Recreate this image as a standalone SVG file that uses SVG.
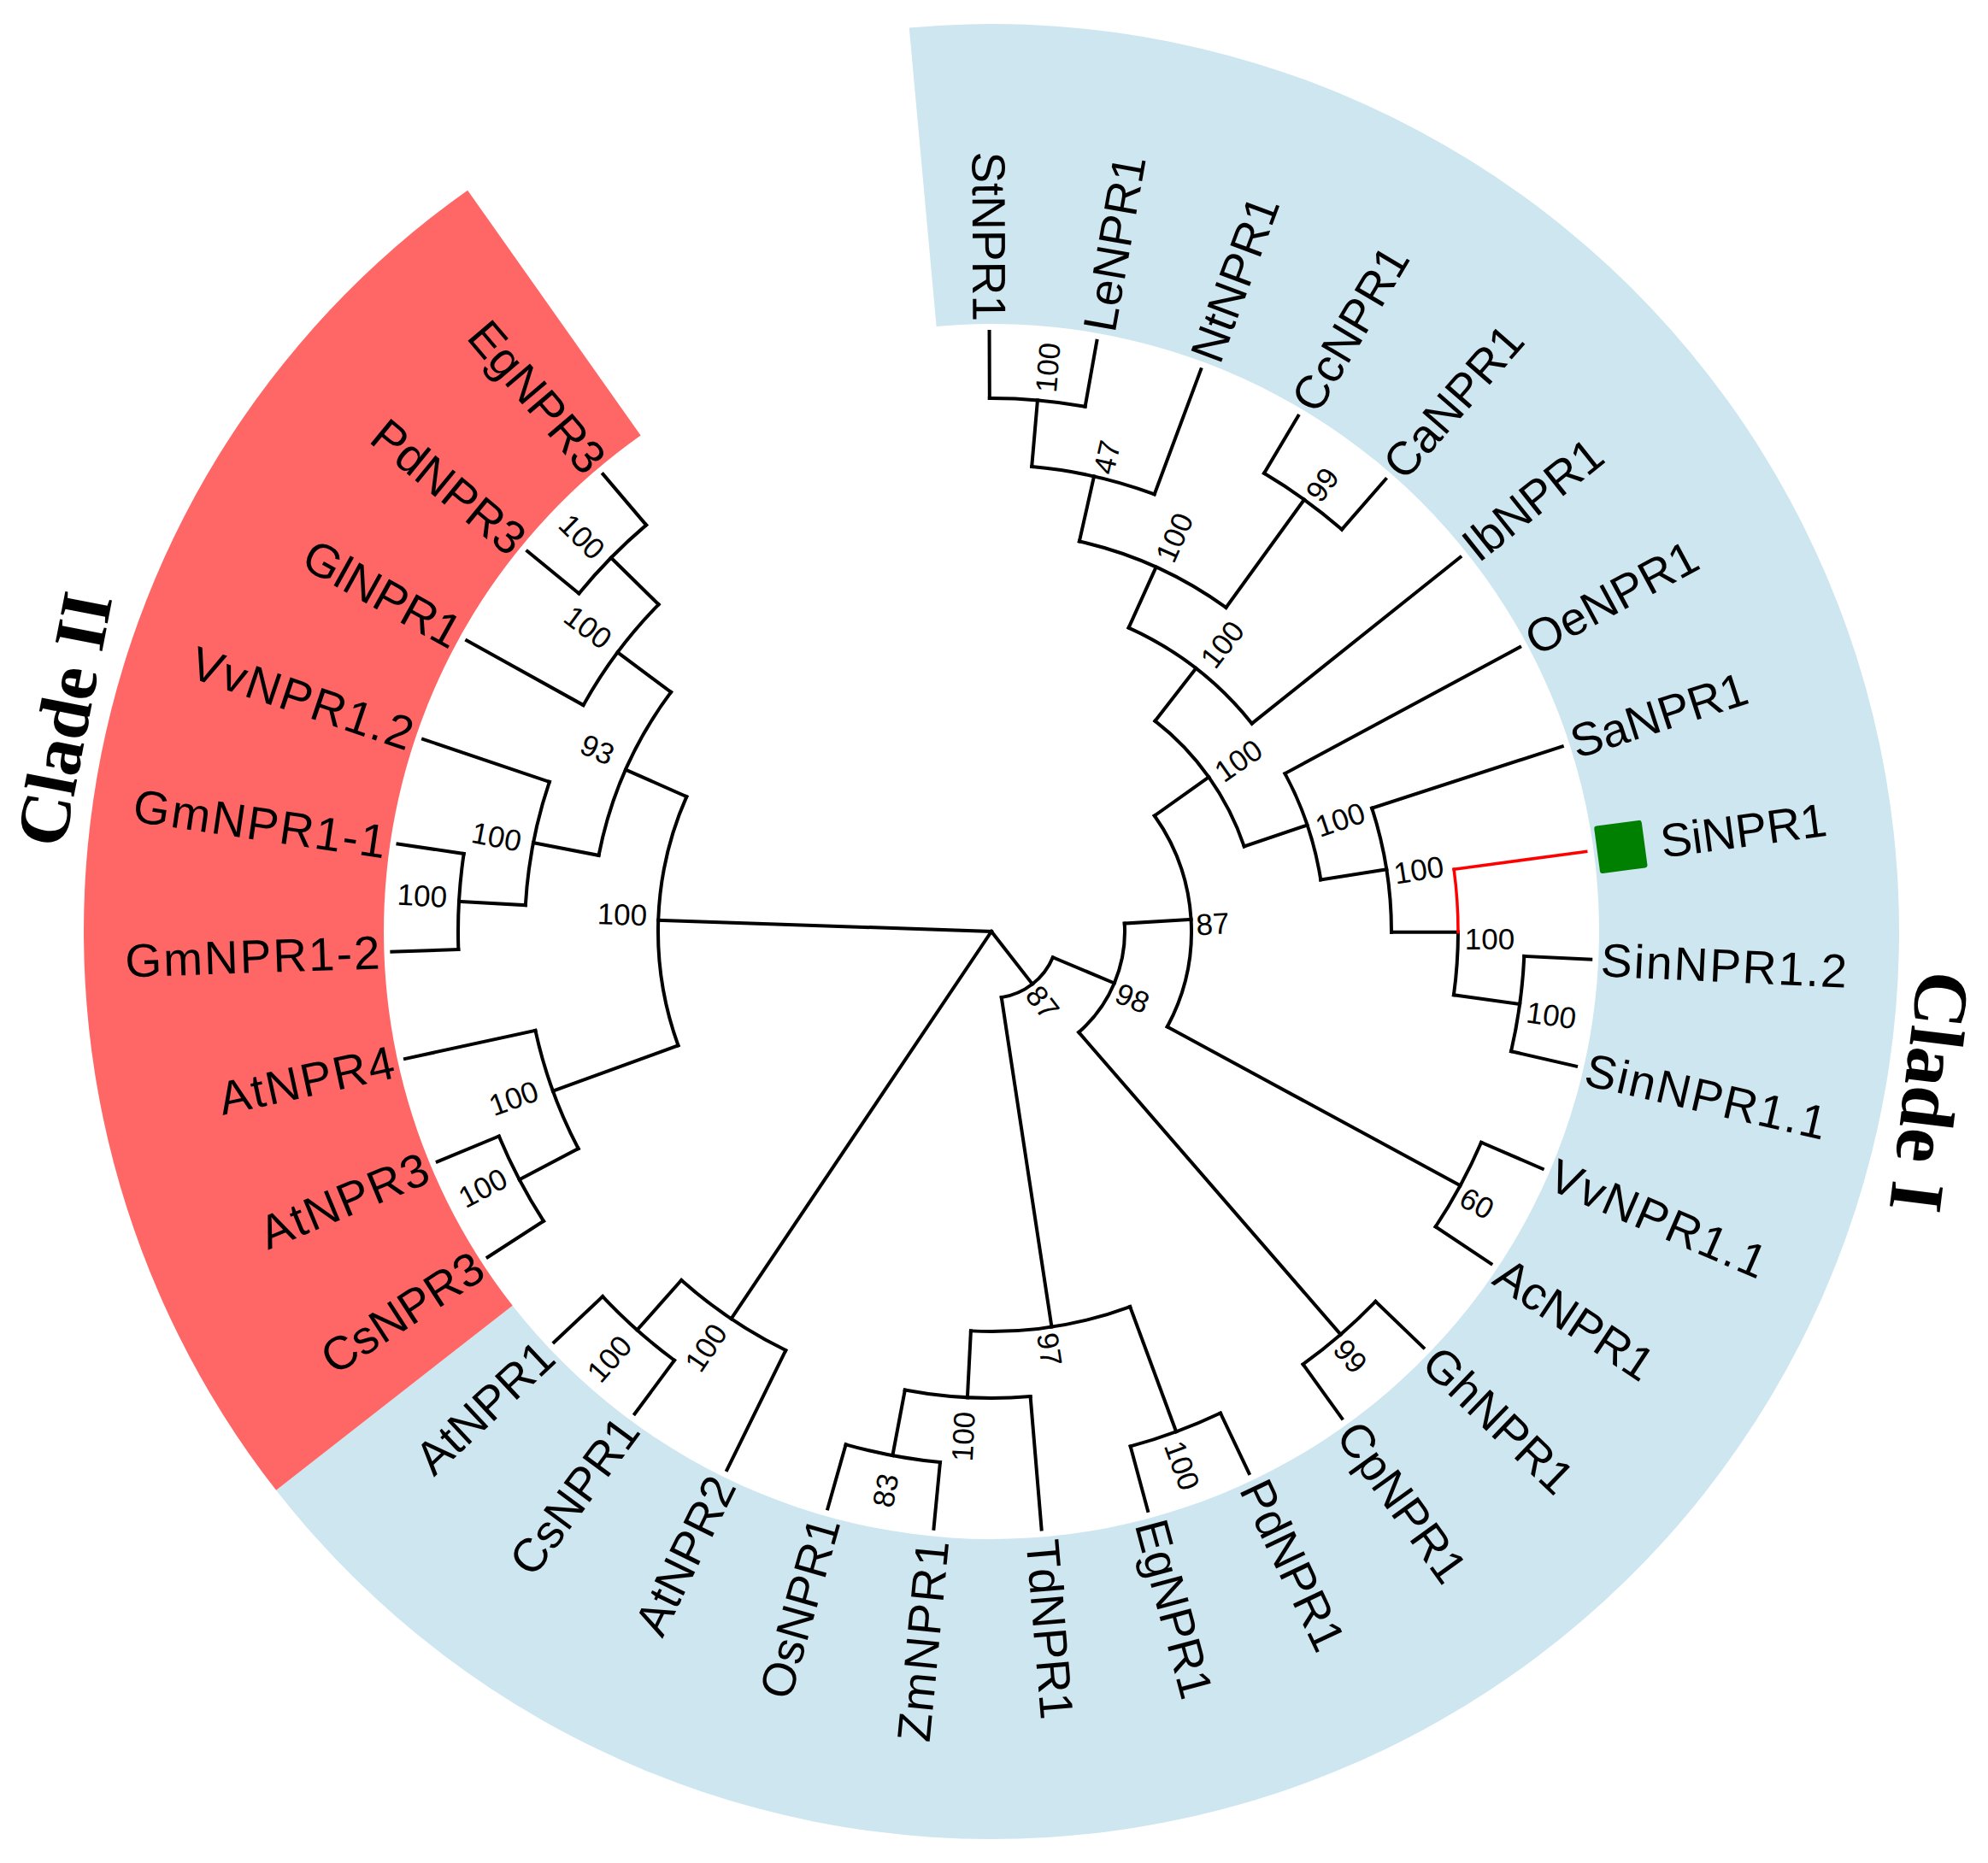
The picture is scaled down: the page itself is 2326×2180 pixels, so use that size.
<svg xmlns="http://www.w3.org/2000/svg" width="2326" height="2180" viewBox="0 0 2326 2180">
<style>
.leaf{font-family:'Liberation Sans',Arial,sans-serif;font-size:55px;fill:#000}
.e{text-anchor:end}
.sp{letter-spacing:2px}
.bs{font-family:'Liberation Sans',Arial,sans-serif;font-size:35px;fill:#000;text-anchor:middle}
.clade{font-family:'Liberation Serif','Times New Roman',serif;font-weight:bold;fill:#000;text-anchor:middle}
.br{fill:none;stroke:#000;stroke-width:4;stroke-linecap:square}
.hl{fill:none;stroke:#ff0000;stroke-width:3.5;stroke-linecap:square}
</style>
<rect width="2326" height="2180" fill="#fff"/>
<g id="bands">
<path id="clade-I-band" d="M1063.75 32.4A1062 1062 0 1 1 323.1 1743.8L599.7 1527.7A711 711 0 1 0 1095.6 381.9Z" fill="#cde6f0"/>
<path id="clade-II-band" d="M323.1 1743.8A1062 1062 0 0 1 547.1 222.7L749.6 509.4A711 711 0 0 0 599.7 1527.7Z" fill="#ff6666"/>
</g>
<g id="connectors" class="br" transform="translate(1160 1090)">
<line x1="624" x2="702" transform="rotate(269.8)"/>
<line x1="624" x2="702" transform="rotate(280.12)"/>
<line x1="546" x2="702" transform="rotate(290.44)"/>
<line x1="624" x2="702" transform="rotate(300.75)"/>
<line x1="624" x2="702" transform="rotate(311.07)"/>
<line x1="390" x2="702" transform="rotate(321.39)"/>
<line x1="390" x2="702" transform="rotate(331.71)"/>
<line x1="468" x2="702" transform="rotate(342.03)"/>
<line x1="624" x2="702" transform="rotate(362.66)"/>
<line x1="624" x2="702" transform="rotate(372.98)"/>
<line x1="624" x2="702" transform="rotate(383.3)"/>
<line x1="624" x2="702" transform="rotate(393.62)"/>
<line x1="624" x2="702" transform="rotate(403.93)"/>
<line x1="624" x2="702" transform="rotate(414.25)"/>
<line x1="624" x2="702" transform="rotate(424.57)"/>
<line x1="624" x2="702" transform="rotate(434.89)"/>
<line x1="546" x2="702" transform="rotate(445.21)"/>
<line x1="624" x2="702" transform="rotate(455.52)"/>
<line x1="624" x2="702" transform="rotate(465.84)"/>
<line x1="546" x2="702" transform="rotate(476.16)"/>
<line x1="624" x2="702" transform="rotate(486.48)"/>
<line x1="624" x2="702" transform="rotate(496.8)"/>
<line x1="624" x2="702" transform="rotate(507.11)"/>
<line x1="624" x2="702" transform="rotate(517.43)"/>
<line x1="546" x2="702" transform="rotate(527.75)"/>
<line x1="624" x2="702" transform="rotate(538.07)"/>
<line x1="624" x2="702" transform="rotate(548.39)"/>
<line x1="546" x2="702" transform="rotate(558.7)"/>
<line x1="546" x2="702" transform="rotate(569.02)"/>
<line x1="624" x2="702" transform="rotate(579.34)"/>
<line x1="624" x2="702" transform="rotate(589.66)"/>
<line x1="546" x2="624" transform="rotate(274.96)"/>
<line x1="468" x2="546" transform="rotate(282.7)"/>
<line x1="468" x2="624" transform="rotate(305.91)"/>
<line x1="390" x2="468" transform="rotate(294.31)"/>
<line x1="312" x2="390" transform="rotate(307.85)"/>
<line x1="546" x2="624" transform="rotate(367.82)"/>
<line x1="468" x2="546" transform="rotate(360.08)"/>
<line x1="390" x2="468" transform="rotate(351.06)"/>
<line x1="312" x2="390" transform="rotate(341.38)"/>
<line x1="234" x2="312" transform="rotate(324.62)"/>
<line x1="234" x2="624" transform="rotate(388.46)"/>
<line x1="156" x2="234" transform="rotate(356.54)"/>
<line x1="156" x2="624" transform="rotate(409.09)"/>
<line x1="78" x2="156" transform="rotate(382.82)"/>
<line x1="468" x2="624" transform="rotate(429.73)"/>
<line x1="546" x2="624" transform="rotate(460.68)"/>
<line x1="468" x2="546" transform="rotate(452.95)"/>
<line x1="78" x2="468" transform="rotate(441.34)"/>
<line x1="0" x2="78" transform="rotate(412.08)"/>
<line x1="546" x2="624" transform="rotate(491.64)"/>
<line x1="0" x2="546" transform="rotate(483.9)"/>
<line x1="546" x2="624" transform="rotate(512.27)"/>
<line x1="390" x2="546" transform="rotate(520.01)"/>
<line x1="546" x2="624" transform="rotate(543.23)"/>
<line x1="468" x2="546" transform="rotate(550.97)"/>
<line x1="546" x2="624" transform="rotate(584.5)"/>
<line x1="468" x2="546" transform="rotate(576.76)"/>
<line x1="390" x2="468" transform="rotate(563.87)"/>
<line x1="0" x2="390" transform="rotate(541.94)"/>
<path d="M624 0A624 624 0 0 1 613.9 111.79" transform="rotate(269.8)"/>
<path d="M546 0A546 546 0 0 1 526.19 145.73" transform="rotate(274.96)"/>
<path d="M624 0A624 624 0 0 1 613.9 111.79" transform="rotate(300.75)"/>
<path d="M468 0A468 468 0 0 1 430.12 184.44" transform="rotate(282.7)"/>
<path d="M390 0A390 390 0 0 1 347.25 177.54" transform="rotate(294.31)"/>
<path d="M624 0A624 624 0 0 1 613.9 111.79" transform="rotate(362.66)"/>
<path d="M546 0A546 546 0 0 1 541.03 73.53" transform="rotate(360.08)"/>
<path d="M468 0A468 468 0 0 1 444.97 145.01" transform="rotate(342.03)"/>
<path d="M390 0A390 390 0 0 1 367.98 129.23" transform="rotate(331.71)"/>
<path d="M312 0A312 312 0 0 1 260.08 172.34" transform="rotate(307.85)"/>
<path d="M624 0A624 624 0 0 1 613.9 111.79" transform="rotate(383.3)"/>
<path d="M234 0A234 234 0 0 1 103.17 210.03" transform="rotate(324.62)"/>
<path d="M624 0A624 624 0 0 1 613.9 111.79" transform="rotate(403.93)"/>
<path d="M156 0A156 156 0 0 1 94.86 123.85" transform="rotate(356.54)"/>
<path d="M624 0A624 624 0 0 1 613.9 111.79" transform="rotate(424.57)"/>
<path d="M624 0A624 624 0 0 1 613.9 111.79" transform="rotate(455.52)"/>
<path d="M546 0A546 546 0 0 1 526.19 145.73" transform="rotate(445.21)"/>
<path d="M468 0A468 468 0 0 1 430.09 184.51" transform="rotate(429.73)"/>
<path d="M78 0A78 78 0 0 1 40.73 66.52" transform="rotate(382.82)"/>
<path d="M624 0A624 624 0 0 1 613.9 111.79" transform="rotate(486.48)"/>
<path d="M546 0A546 546 0 0 1 526.19 145.73" transform="rotate(476.16)"/>
<path d="M624 0A624 624 0 0 1 613.9 111.79" transform="rotate(507.11)"/>
<path d="M546 0A546 546 0 0 1 526.19 145.73" transform="rotate(512.27)"/>
<path d="M624 0A624 624 0 0 1 613.9 111.79" transform="rotate(538.07)"/>
<path d="M546 0A546 546 0 0 1 526.19 145.73" transform="rotate(543.23)"/>
<path d="M624 0A624 624 0 0 1 613.9 111.79" transform="rotate(579.34)"/>
<path d="M546 0A546 546 0 0 1 526.19 145.73" transform="rotate(569.02)"/>
<path d="M468 0A468 468 0 0 1 421.39 203.62" transform="rotate(550.97)"/>
<path d="M390 0A390 390 0 0 1 281.21 270.23" transform="rotate(520.01)"/>
<g id="SiNPR1-path" class="hl">
<line x1="546" x2="702" transform="rotate(352.34)"/>
<path d="M546 0A546 546 0 0 1 541.03 73.53" transform="rotate(352.34)"/>
</g>
</g>
<g id="leaves">
<g id="leaf-StNPR1"><text class="leaf e" transform="translate(1160 1090) rotate(269.8) translate(714 0) rotate(180)" dy="0.35em">StNPR1</text></g>
<g id="leaf-LeNPR1"><text class="leaf" transform="translate(1160 1090) rotate(280.12) translate(714 0)" dy="0.35em">LeNPR1</text></g>
<g id="leaf-NtNPR1"><text class="leaf" transform="translate(1160 1090) rotate(290.44) translate(714 0)" dy="0.35em">NtNPR1</text></g>
<g id="leaf-CcNPR1"><text class="leaf" transform="translate(1160 1090) rotate(300.75) translate(714 0)" dy="0.35em">CcNPR1</text></g>
<g id="leaf-CaNPR1"><text class="leaf" transform="translate(1160 1090) rotate(311.07) translate(714 0)" dy="0.35em">CaNPR1</text></g>
<g id="leaf-IbNPR1"><text class="leaf" transform="translate(1160 1090) rotate(321.39) translate(714 0)" dy="0.35em">IbNPR1</text></g>
<g id="leaf-OeNPR1"><text class="leaf" transform="translate(1160 1090) rotate(331.71) translate(714 0)" dy="0.35em">OeNPR1</text></g>
<g id="leaf-SaNPR1"><text class="leaf" transform="translate(1160 1090) rotate(342.03) translate(714 0)" dy="0.35em">SaNPR1</text></g>
<g id="leaf-SiNPR1"><rect x="-28" y="-28" width="56" height="56" rx="3" fill="#008000" transform="translate(1160 1090) rotate(352.34) translate(743 0)"/><text class="leaf" transform="translate(1160 1090) rotate(352.34) translate(790 0)" dy="0.35em">SiNPR1</text></g>
<g id="leaf-SinNPR1.2"><text class="leaf sp" transform="translate(1160 1090) rotate(362.66) translate(714 0)" dy="0.35em">SinNPR1.2</text></g>
<g id="leaf-SinNPR1.1"><text class="leaf sp" transform="translate(1160 1090) rotate(372.98) translate(714 0)" dy="0.35em">SinNPR1.1</text></g>
<g id="leaf-VvNPR1.1"><text class="leaf sp" transform="translate(1160 1090) rotate(383.3) translate(714 0)" dy="0.35em">VvNPR1.1</text></g>
<g id="leaf-AcNPR1"><text class="leaf" transform="translate(1160 1090) rotate(393.62) translate(714 0)" dy="0.35em">AcNPR1</text></g>
<g id="leaf-GhNPR1"><text class="leaf" transform="translate(1160 1090) rotate(403.93) translate(714 0)" dy="0.35em">GhNPR1</text></g>
<g id="leaf-CpNPR1"><text class="leaf" transform="translate(1160 1090) rotate(414.25) translate(714 0)" dy="0.35em">CpNPR1</text></g>
<g id="leaf-PdNPR1"><text class="leaf" transform="translate(1160 1090) rotate(424.57) translate(714 0)" dy="0.35em">PdNPR1</text></g>
<g id="leaf-EgNPR1"><text class="leaf" transform="translate(1160 1090) rotate(434.89) translate(714 0)" dy="0.35em">EgNPR1</text></g>
<g id="leaf-TdNPR1"><text class="leaf" transform="translate(1160 1090) rotate(445.21) translate(714 0)" dy="0.35em">TdNPR1</text></g>
<g id="leaf-ZmNPR1"><text class="leaf e sp" transform="translate(1160 1090) rotate(455.52) translate(714 0) rotate(180)" dy="0.35em">ZmNPR1</text></g>
<g id="leaf-OsNPR1"><text class="leaf e" transform="translate(1160 1090) rotate(465.84) translate(714 0) rotate(180)" dy="0.35em">OsNPR1</text></g>
<g id="leaf-AtNPR2"><text class="leaf e" transform="translate(1160 1090) rotate(476.16) translate(714 0) rotate(180)" dy="0.35em">AtNPR2</text></g>
<g id="leaf-CsNPR1"><text class="leaf e" transform="translate(1160 1090) rotate(486.48) translate(714 0) rotate(180)" dy="0.35em">CsNPR1</text></g>
<g id="leaf-AtNPR1"><text class="leaf e" transform="translate(1160 1090) rotate(496.8) translate(714 0) rotate(180)" dy="0.35em">AtNPR1</text></g>
<g id="leaf-CsNPR3"><text class="leaf e" transform="translate(1160 1090) rotate(507.11) translate(714 0) rotate(180)" dy="0.35em">CsNPR3</text></g>
<g id="leaf-AtNPR3"><text class="leaf e sp" transform="translate(1160 1090) rotate(517.43) translate(714 0) rotate(180)" dy="0.35em">AtNPR3</text></g>
<g id="leaf-AtNPR4"><text class="leaf e sp" transform="translate(1160 1090) rotate(527.75) translate(714 0) rotate(180)" dy="0.35em">AtNPR4</text></g>
<g id="leaf-GmNPR1-2"><text class="leaf e sp" transform="translate(1160 1090) rotate(538.07) translate(714 0) rotate(180)" dy="0.35em">GmNPR1-2</text></g>
<g id="leaf-GmNPR1-1"><text class="leaf e sp" transform="translate(1160 1090) rotate(548.39) translate(714 0) rotate(180)" dy="0.35em">GmNPR1-1</text></g>
<g id="leaf-VvNPR1.2"><text class="leaf e sp" transform="translate(1160 1090) rotate(558.7) translate(714 0) rotate(180)" dy="0.35em">VvNPR1.2</text></g>
<g id="leaf-GlNPR1"><text class="leaf e" transform="translate(1160 1090) rotate(569.02) translate(714 0) rotate(180)" dy="0.35em">GlNPR1</text></g>
<g id="leaf-PdNPR3"><text class="leaf e" transform="translate(1160 1090) rotate(579.34) translate(714 0) rotate(180)" dy="0.35em">PdNPR3</text></g>
<g id="leaf-EgNPR3"><text class="leaf e" transform="translate(1160 1090) rotate(589.66) translate(714 0) rotate(180)" dy="0.35em">EgNPR3</text></g>
</g>
<g id="bootstrap">
<g id="node-A1"><text class="bs" transform="translate(1226 430) rotate(-85)" dy="0.35em">100</text></g>
<g id="node-A2"><text class="bs" transform="translate(1295 535) rotate(-77)" dy="0.35em">47</text></g>
<g id="node-A3"><text class="bs" transform="translate(1374 629) rotate(-66)" dy="0.35em">100</text></g>
<g id="node-B1"><text class="bs" transform="translate(1547 567) rotate(-54)" dy="0.35em">99</text></g>
<g id="node-A4"><text class="bs" transform="translate(1430 754) rotate(-52)" dy="0.35em">100</text></g>
<g id="node-A5"><text class="bs" transform="translate(1449 890) rotate(-35)" dy="0.35em">100</text></g>
<g id="node-C1"><text class="bs" transform="translate(1568 959) rotate(-18.6)" dy="0.35em">100</text></g>
<g id="node-C2"><text class="bs" transform="translate(1660 1018) rotate(-9)" dy="0.35em">100</text></g>
<g id="node-C3"><text class="bs" transform="translate(1743 1099) rotate(0)" dy="0.35em">100</text></g>
<g id="node-C4"><text class="bs" transform="translate(1815 1188) rotate(7.8)" dy="0.35em">100</text></g>
<g id="node-D1"><text class="bs" transform="translate(1728 1408) rotate(28.5)" dy="0.35em">60</text></g>
<g id="node-A6"><text class="bs" transform="translate(1419 1081) rotate(-3.5)" dy="0.35em">87</text></g>
<g id="node-A7"><text class="bs" transform="translate(1325 1168) rotate(22.8)" dy="0.35em">98</text></g>
<g id="node-A8"><text class="bs" transform="translate(1220 1173) rotate(52)" dy="0.35em">87</text></g>
<g id="node-E1"><text class="bs" transform="translate(1580 1587) rotate(49)" dy="0.35em">99</text></g>
<g id="node-G"><text class="bs" transform="translate(1383 1715) rotate(69.7)" dy="0.35em">100</text></g>
<g id="node-F"><text class="bs" transform="translate(1228 1579) rotate(81.3)" dy="0.35em">97</text></g>
<g id="node-H"><text class="bs" transform="translate(1127 1681) rotate(-87)" dy="0.35em">100</text></g>
<g id="node-I"><text class="bs" transform="translate(1036 1744) rotate(-79.3)" dy="0.35em">83</text></g>
<g id="node-J"><text class="bs" transform="translate(826 1577) rotate(-56)" dy="0.35em">100</text></g>
<g id="node-L"><text class="bs" transform="translate(713 1590) rotate(-48.4)" dy="0.35em">100</text></g>
<g id="node-O"><text class="bs" transform="translate(565 1390) rotate(-27.7)" dy="0.35em">100</text></g>
<g id="node-N"><text class="bs" transform="translate(601 1285) rotate(-20)" dy="0.35em">100</text></g>
<g id="node-R"><text class="bs" transform="translate(494 1048) rotate(3.2)" dy="0.35em">100</text></g>
<g id="node-Q"><text class="bs" transform="translate(581 979) rotate(11)" dy="0.35em">100</text></g>
<g id="node-M"><text class="bs" transform="translate(699 877) rotate(23.9)" dy="0.35em">93</text></g>
<g id="node-P"><text class="bs" transform="translate(688 734) rotate(36.8)" dy="0.35em">100</text></g>
<g id="node-S"><text class="bs" transform="translate(681 628) rotate(44.5)" dy="0.35em">100</text></g>
<g id="node-K"><text class="bs" transform="translate(728 1070) rotate(2)" dy="0.35em">100</text></g>
</g>
<g id="clade-II-label"><text class="clade" font-size="85" transform="translate(103 847) rotate(-79)">Clade II</text></g>
<g id="clade-I-label"><text class="clade" font-size="90" transform="translate(2228 1274) rotate(97)">Clade I</text></g>
</svg>
